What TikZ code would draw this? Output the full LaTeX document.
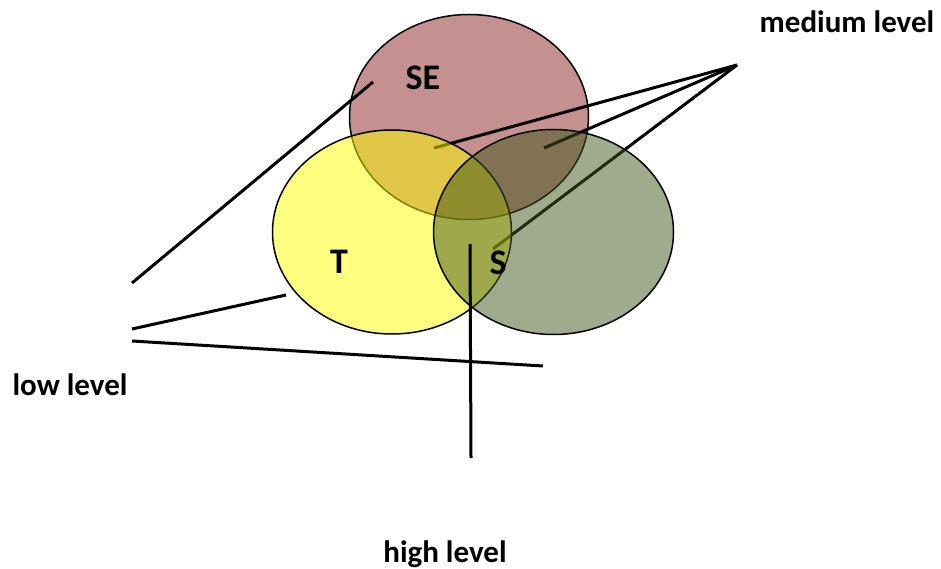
\documentclass[tikz,border=0pt]{standalone}
\usepackage{fontspec}
\setmainfont{Carlito}
\usetikzlibrary{shapes.geometric}
\definecolor{sefill}{RGB}{196,144,144}
\definecolor{tfill}{RGB}{255,255,0}
\definecolor{sfill}{RGB}{65,85,25}
\tikzset{
  ell/.style={ellipse, draw=black, line width=1.5pt, inner sep=0pt},
  conn/.style={draw=black, line width=3pt},
  lvl/.style={font=\fontsize{31}{36}\selectfont\bfseries, inner sep=0pt, anchor=base},
  setlbl/.style={font=\fontsize{36}{42}\selectfont\bfseries, inner sep=0pt, anchor=base}
}
\begin{document}
\begin{tikzpicture}[x=1pt,y=-1pt]
\useasboundingbox (0,0) rectangle (941,569);
% SE ellipse
\node[ell, fill=sefill, minimum width=239pt, minimum height=205pt] (SEe) at (469,117) {};
\node[setlbl] (SElbl) at (423,90) {SE};
% label nodes
\node[lvl] (med) at (847,33) {medium level};
\node[lvl] (low) at (70,395) {low level};
\node[lvl] (high) at (445,562) {high level};
% connector coordinates
\coordinate (mhub) at (737,65);
\coordinate (mSET) at (434,148);
\coordinate (mSES) at (544,148);
\coordinate (mS) at (493,249);
\coordinate (l1a) at (132,283);
\coordinate (l1b) at (373,82);
\coordinate (l2a) at (132,329);
\coordinate (l2b) at (286,295);
\coordinate (l3a) at (132,341);
\coordinate (l3b) at (543,366);
\coordinate (h1) at (470,244);
\coordinate (h2) at (471,458);
\draw[conn] (mhub) -- (mSET);
\draw[conn] (mhub) -- (mSES);
\draw[conn] (mhub) -- (mS);
\draw[conn] (l1a) -- (l1b);
\draw[conn] (l2a) -- (l2b);
\draw[conn] (l3a) -- (l3b);
% T ellipse
\node[ell, fill=tfill, fill opacity=0.5, minimum width=239pt, minimum height=204pt] (Te) at (392,232) {};
% S ellipse
\node[ell, fill=sfill, fill opacity=0.5, minimum width=240pt, minimum height=205pt] (Se) at (553.5,232) {};
\node[setlbl] (Tlbl) at (339,273) {T};
\node[setlbl] (Slbl) at (498,274) {S};
\draw[conn] (h1) -- (h2);
\end{tikzpicture}
\end{document}
